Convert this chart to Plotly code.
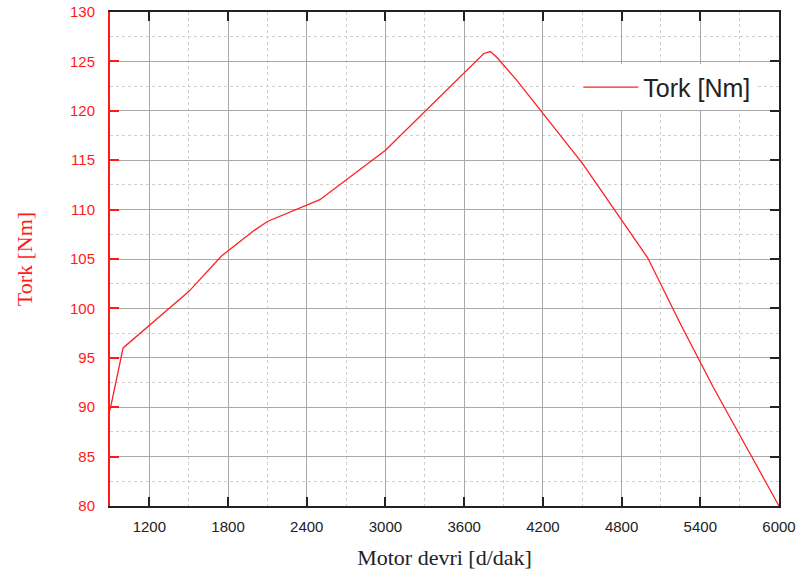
import plotly.graph_objects as go

# Data
rpm = [900, 1000, 1500, 1750, 2000, 2100, 2500, 3000, 3750, 3800, 3850, 4000, 4500, 5000, 5250, 5500, 5750, 6000]
torque = [89.7, 96.0, 101.7, 105.3, 107.9, 108.8, 111.0, 116.0, 125.8, 126.0, 125.4, 123.1, 114.7, 105.1, 98.4, 92.0, 86.0, 80.0]

x_ticks = [1200, 1800, 2400, 3000, 3600, 4200, 4800, 5400, 6000]
y_ticks = [80, 85, 90, 95, 100, 105, 110, 115, 120, 125, 130]
x_range = [900, 6000]
y_range = [80, 130]

RED = "#ff1a1a"

fig = go.Figure()
fig.add_trace(go.Scatter(
    x=rpm, y=torque, mode="lines", name="Tork [Nm]",
    line=dict(color="#ff2020", width=1.3),
))
# invisible twin trace so that the right-hand (black) axis is drawn
fig.add_trace(go.Scatter(
    x=rpm, y=torque, mode="lines", yaxis="y2", showlegend=False,
    hoverinfo="skip", line=dict(color="rgba(0,0,0,0)", width=0),
))

fig.update_layout(
    width=797, height=578,
    margin=dict(l=110, r=18, t=12, b=72, autoexpand=False),
    paper_bgcolor="white", plot_bgcolor="white",
    showlegend=True,
    legend=dict(
        x=0.70, y=0.894, xanchor="left", yanchor="top",
        bgcolor="white", borderwidth=0,
        font=dict(family="Liberation Sans, Arial", size=25, color="#222"),
        itemwidth=55,
    ),
    xaxis=dict(
        range=x_range, tickvals=x_ticks, ticktext=[str(v) for v in x_ticks],
        automargin=False,
        showline=True, linecolor="#222", linewidth=2, mirror="ticks",
        ticks="inside", ticklen=9, tickwidth=2, tickcolor="#222",
        showgrid=True, gridcolor="#a8a8a8", gridwidth=1,
        minor=dict(dtick=300, tick0=900, showgrid=True, gridcolor="#cfcfcf",
                   griddash="dot", gridwidth=1, ticks=""),
        tickfont=dict(family="Liberation Sans, Arial", size=15, color="#222"),
        ticklabelstandoff=6,
        zeroline=False,
        title=dict(text="Motor devri [d/dak]", standoff=16,
                   font=dict(family="Liberation Serif, Times New Roman", size=22, color="#222")),
    ),
    yaxis=dict(
        range=y_range, tickvals=y_ticks,
        automargin=False,
        showline=True, linecolor=RED, linewidth=2, mirror=False,
        ticks="inside", ticklen=9, tickwidth=2, tickcolor=RED,
        showgrid=True, gridcolor="#a8a8a8", gridwidth=1,
        minor=dict(dtick=2.5, tick0=80, showgrid=True, gridcolor="#cfcfcf",
                   griddash="dot", gridwidth=1, ticks=""),
        tickfont=dict(family="Liberation Sans, Arial", size=15, color=RED),
        ticklabelstandoff=10,
        zeroline=False,
        title=dict(text="Tork [Nm]", standoff=31,
                   font=dict(family="Liberation Serif, Times New Roman", size=22, color=RED)),
    ),
    yaxis2=dict(
        range=y_range, tickvals=y_ticks, overlaying="y", side="right", anchor="x",
        automargin=False,
        showline=True, linecolor="#222", linewidth=2,
        ticks="inside", ticklen=9, tickwidth=2, tickcolor="#222",
        showticklabels=False, showgrid=False, zeroline=False,
    ),
)

fig.write_html("out.html")
